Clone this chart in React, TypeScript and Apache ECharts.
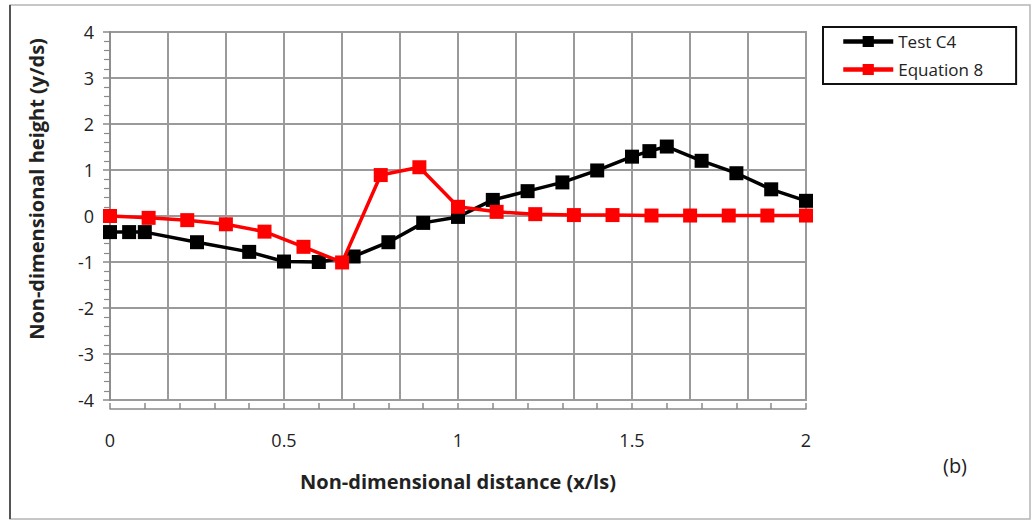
import React, { useEffect, useRef } from "react";
import * as echarts from "echarts";

const testX = [0, 0.055, 0.1, 0.25, 0.4, 0.5, 0.6, 0.7, 0.8, 0.9, 1.0, 1.1, 1.2, 1.3, 1.4, 1.5, 1.55, 1.6, 1.7, 1.8, 1.9, 2.0];
const testY = [-0.35, -0.35, -0.35, -0.57, -0.78, -0.99, -1.0, -0.88, -0.57, -0.15, -0.02, 0.35, 0.54, 0.73, 0.99, 1.29, 1.41, 1.51, 1.2, 0.93, 0.58, 0.33];

const eqX = [0, 0.111, 0.222, 0.333, 0.444, 0.556, 0.667, 0.778, 0.889, 1.0, 1.111, 1.222, 1.333, 1.444, 1.556, 1.667, 1.778, 1.889, 2.0];
const eqY = [0, -0.04, -0.09, -0.18, -0.34, -0.67, -1.01, 0.89, 1.06, 0.2, 0.09, 0.04, 0.02, 0.02, 0.01, 0.01, 0.01, 0.01, 0.01];

const seriesNames = ["Test C4", "Equation 8"];
const xTitle = "Non-dimensional distance (x/ls)";
const yTitle = "Non-dimensional height (y/ds)";
const panelLabel = "(b)";

const FONT = "'Open Sans', 'Noto Sans', sans-serif";

export default function App() {
  const ref = useRef<HTMLDivElement>(null);
  useEffect(() => {
    if (!ref.current) return;
    const chart = echarts.init(ref.current, undefined, { renderer: "svg" });
    const gridColor = "#9a9a9a";
    chart.setOption({
      animation: false,
      backgroundColor: "#ffffff",
      textStyle: { fontFamily: FONT },
      grid: {
        left: 110,
        top: 32,
        width: 696,
        height: 368,
        show: true,
        borderColor: gridColor,
        borderWidth: 2,
      },
      legend: {
        left: 823,
        top: 27,
        orient: "vertical",
        padding: [6, 33, 6, 18],
        itemGap: 11,
        itemWidth: 50,
        itemHeight: 14,
        borderColor: "#111",
        borderWidth: 2,
        lineStyle: { width: 4.5 },
        textStyle: { fontFamily: FONT, fontSize: 17, color: "#222" },
        data: seriesNames,
      },
      xAxis: [
        {
          type: "value",
          min: 0,
          max: 2,
          interval: 1 / 6,
          axisLine: { show: false },
          axisTick: { show: false },
          axisLabel: { show: false },
          splitLine: { show: true, lineStyle: { color: gridColor, width: 2 } },
        },
        {
          type: "value",
          min: 0,
          max: 2,
          interval: 0.1,
          position: "bottom",
          offset: 9,
          axisLine: { show: true, lineStyle: { color: "#8a8a8a", width: 1.5 } },
          axisTick: { show: true, inside: true, length: 6, lineStyle: { color: "#8a8a8a", width: 1.5 } },
          splitLine: { show: false },
          axisLabel: {
            show: true,
            margin: 22,
            fontSize: 18,
            color: "#222",
            fontFamily: FONT,
            formatter: (v: number) => {
              const r = Math.round(v * 10) / 10;
              return Math.abs(r * 2 - Math.round(r * 2)) < 1e-6 ? String(r) : "";
            },
          },
        },
      ],
      yAxis: {
        type: "value",
        min: -4,
        max: 4,
        interval: 1,
        axisLine: { show: true, lineStyle: { color: "#8a8a8a", width: 1.5 } },
        axisTick: { show: true, length: 7, lineStyle: { color: "#8a8a8a", width: 1.5 } },
        minorTick: { show: true, splitNumber: 5, length: 6, lineStyle: { color: "#8a8a8a", width: 1.2 } },
        axisLabel: { fontSize: 18, color: "#222", margin: 16, fontFamily: FONT },
        splitLine: { show: true, lineStyle: { color: gridColor, width: 2 } },
      },
      series: [
        {
          name: seriesNames[0],
          type: "line",
          xAxisIndex: 0,
          data: testX.map((x, i) => [x, testY[i]]),
          symbol: "rect",
          symbolSize: 14,
          itemStyle: { color: "#000000" },
          lineStyle: { color: "#000000", width: 3.5 },
          z: 3,
        },
        {
          name: seriesNames[1],
          type: "line",
          xAxisIndex: 0,
          data: eqX.map((x, i) => [x, eqY[i]]),
          symbol: "rect",
          symbolSize: 14,
          itemStyle: { color: "#ff0000" },
          lineStyle: { color: "#ff0000", width: 3.5 },
          z: 4,
        },
      ],
      graphic: [
        {
          type: "rect",
          shape: { x: 10, y: 5, width: 1020, height: 514 },
          style: { fill: "none", stroke: "#b5b5b5", lineWidth: 1.5 },
          silent: true,
        },
        {
          type: "line",
          shape: { x1: 10, y1: 5, x2: 10, y2: 519 },
          style: { stroke: "#555", lineWidth: 2 },
          silent: true,
        },
        {
          type: "text",
          x: 36,
          y: 189,
          rotation: Math.PI / 2,
          style: {
            text: yTitle,
            fontFamily: FONT,
            fontSize: 20,
            fontWeight: "bold",
            fill: "#222",
            textAlign: "center",
            textVerticalAlign: "middle",
          },
        },
        {
          type: "text",
          x: 458,
          y: 481,
          style: {
            text: xTitle,
            fontFamily: FONT,
            fontSize: 20,
            fontWeight: "bold",
            fill: "#222",
            textAlign: "center",
            textVerticalAlign: "middle",
          },
        },
        {
          type: "text",
          x: 955,
          y: 465,
          style: {
            text: panelLabel,
            fontFamily: FONT,
            fontSize: 20,
            fill: "#222",
            textAlign: "center",
            textVerticalAlign: "middle",
          },
        },
      ],
    });
    return () => chart.dispose();
  }, []);
  return (
    <div
      ref={ref}
      style={{ position: "fixed", left: 0, top: 0, width: 1032, height: 521, background: "#fff" }}
    />
  );
}
